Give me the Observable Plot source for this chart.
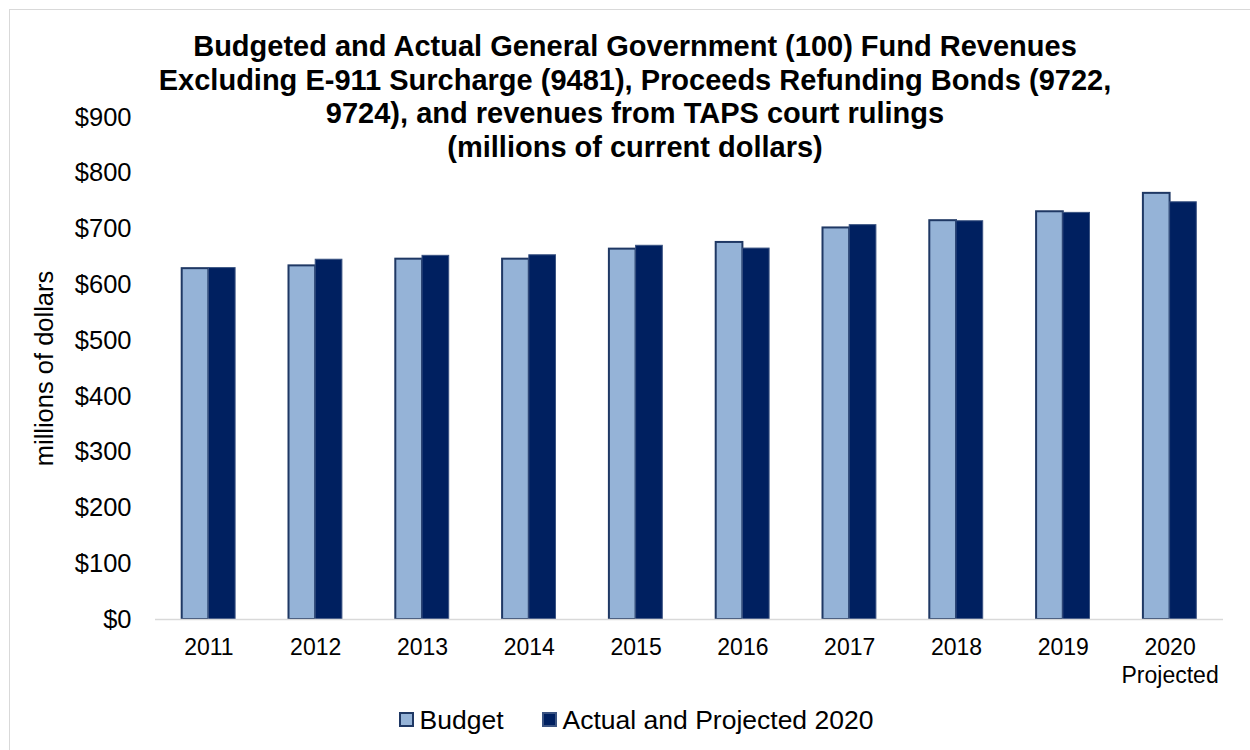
<!DOCTYPE html>
<html>
<head>
<meta charset="utf-8">
<script src="https://cdn.jsdelivr.net/npm/d3@7"></script>
<script src="https://cdn.jsdelivr.net/npm/@observablehq/plot@0.6"></script>
<style>
  body { margin: 0; background: #fff; font-family: "Liberation Sans", Arial, sans-serif; }
  #wrap { position: relative; width: 1250px; height: 750px; overflow: hidden; }
  #frame { position: absolute; left: 9px; top: 9px; width: 1260px; height: 760px; border: 1px solid #d9d9d9; box-sizing: border-box; pointer-events: none; }
  #title { position: absolute; left: 85px; width: 1100px; top: 30px; text-align: center; font-weight: bold; font-size: 29px; line-height: 33.7px; color: #000; }
  #legend { position: absolute; left: 0; width: 1272px; top: 702px; text-align: center; font-size: 26.5px; line-height: 32px; color: #000; white-space: nowrap; }
  #legend span.item { display: inline-flex; align-items: center; margin: 0 19px; }
  #legend span.sw { display: inline-block; width: 15px; height: 15px; margin-right: 6px; box-sizing: border-box; }
  #chart { position: absolute; left: 0; top: 0; }
</style>
</head>
<body>
<div id="wrap">
  <div id="chart"></div>
  <div id="title">Budgeted and Actual General Government (100) Fund Revenues<br>Excluding E-911 Surcharge (9481), Proceeds Refunding Bonds (9722,<br>9724), and revenues from TAPS court rulings<br>(millions of current dollars)</div>
  <div id="legend"></div>
  <div id="frame"></div>
</div>
<script>
const years = ["2011","2012","2013","2014","2015","2016","2017","2018","2019","2020"];
const budget = [629, 634, 646, 646, 664, 676, 702, 715, 731, 764];
const actual = [630, 645, 652, 653, 670, 665, 707, 714, 729, 748];
const yTicks = [0, 100, 200, 300, 400, 500, 600, 700, 800, 900];
const seriesNames = ["Budget", "Actual and Projected 2020"];
const seriesFill = ["#95b3d7", "#002060"];
const seriesStroke = ["#1f3864", "#3a5382"];

const budgetRows = years.map((y, i) => ({year: y, value: budget[i]}));
const actualRows = years.map((y, i) => ({year: y, value: actual[i]}));

const half = 26.7;

const chart = Plot.plot({
  width: 1250,
  height: 750,
  marginTop: 117,
  marginBottom: 131,
  marginLeft: 155,
  marginRight: 27,
  style: {fontFamily: "Liberation Sans, Arial, sans-serif", fontSize: "20px", color: "#000", background: "transparent"},
  x: {domain: years, paddingInner: 0.5, paddingOuter: 0.25, round: false},
  y: {domain: [0, 900]},
  marks: [
    Plot.axisY({
      ticks: yTicks,
      tickFormat: d => "$" + d,
      tickSize: 0,
      tickPadding: 24,
      fontSize: 25.5,
      label: "millions of dollars",
      labelAnchor: "center",
      labelArrow: "none",
      labelOffset: 121
    }),
    Plot.axisX({
      tickSize: 0,
      tickPadding: 16,
      fontSize: 23,
      lineHeight: 1.22,
      label: null,
      tickFormat: d => d === "2020" ? "2020\nProjected" : d
    }),
    Plot.barY(budgetRows, {x: "year", y: "value", fill: seriesFill[0], stroke: seriesStroke[0], strokeWidth: 2, insetRight: half}),
    Plot.barY(actualRows, {x: "year", y: "value", fill: seriesFill[1], stroke: seriesStroke[1], strokeWidth: 1, insetLeft: half}),
    Plot.ruleY([0], {stroke: "#d9d9d9", strokeWidth: 1.5})
  ]
});
document.getElementById("chart").appendChild(chart);

const legend = document.getElementById("legend");
seriesNames.forEach((name, i) => {
  const item = document.createElement("span");
  item.className = "item";
  const sw = document.createElement("span");
  sw.className = "sw";
  sw.style.background = seriesFill[i];
  sw.style.border = "2px solid " + seriesStroke[i];
  item.appendChild(sw);
  item.appendChild(document.createTextNode(name));
  legend.appendChild(item);
});
</script>
</body>
</html>
